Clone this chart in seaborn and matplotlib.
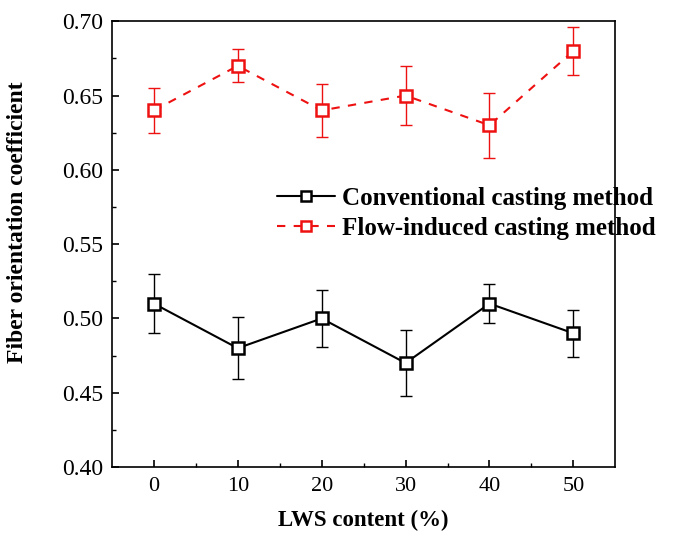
import pandas as pd
import matplotlib.pyplot as plt
import seaborn as sns

# --- DATA ---
lws_content = [0, 10, 20, 30, 40, 50]
conventional = [0.51, 0.48, 0.50, 0.47, 0.51, 0.49]
conventional_err = [0.020, 0.021, 0.019, 0.022, 0.013, 0.016]
flow_induced = [0.64, 0.67, 0.64, 0.65, 0.63, 0.68]
flow_induced_err = [0.015, 0.011, 0.018, 0.020, 0.022, 0.016]

LABEL_CONV = "Conventional casting method"
LABEL_FLOW = "Flow-induced casting method"

df = pd.DataFrame({
    "lws": lws_content * 2,
    "coef": conventional + flow_induced,
    "err": conventional_err + flow_induced_err,
    "method": [LABEL_CONV] * len(lws_content) + [LABEL_FLOW] * len(lws_content),
})

sns.set_theme(style="ticks")
plt.rcParams["font.family"] = ["Liberation Serif", "DejaVu Serif"]
# seaborn greys the text; the original is plain black
for key in ["text.color", "axes.labelcolor", "xtick.color", "ytick.color"]:
    plt.rcParams[key] = "black"

fig = plt.figure(figsize=(6.74, 5.45), dpi=100)
ax = fig.add_axes([0.166, 0.143, 0.747, 0.818])

colors = {LABEL_CONV: "black", LABEL_FLOW: "#ee1111"}

# error bars first so the markers sit on top
for name, sub in df.groupby("method", sort=False):
    ax.errorbar(sub["lws"], sub["coef"], yerr=sub["err"], fmt="none",
                ecolor=colors[name], elinewidth=1.0, capsize=4, capthick=1.0,
                zorder=2)

sns.lineplot(
    data=df, x="lws", y="coef", hue="method", style="method",
    palette=colors, dashes={LABEL_CONV: "", LABEL_FLOW: (4, 4)},
    markers={LABEL_CONV: "s", LABEL_FLOW: "s"},
    markersize=9, markerfacecolor="white", markeredgewidth=1.8,
    linewidth=1.5, ax=ax, legend=False, zorder=3,
)
for line, name in zip(ax.lines[-2:], [LABEL_CONV, LABEL_FLOW]):
    line.set_markeredgecolor(colors[name])

ax.set_xlim(-5, 55)
ax.set_ylim(0.40, 0.70)
ax.set_xticks(lws_content)
ax.set_xticks([5, 15, 25, 35, 45], minor=True)
ax.set_yticks([0.40, 0.45, 0.50, 0.55, 0.60, 0.65, 0.70])
ax.set_yticks([0.425, 0.475, 0.525, 0.575, 0.625, 0.675], minor=True)
ax.set_yticklabels([f"{v:.2f}" for v in ax.get_yticks()])
ax.tick_params(which="major", direction="in", length=5, width=1.2, pad=7)
ax.tick_params(axis="x", labelsize=16)
ax.tick_params(axis="y", labelsize=17, pad=6)
ax.tick_params(which="minor", direction="in", length=3, width=1.0)
for s in ax.spines.values():
    s.set_visible(True)
    s.set_linewidth(1.2)
    s.set_color("black")

ax.set_xlabel("LWS content (%)", fontsize=16.5, fontweight="bold", labelpad=10)
ax.set_ylabel("Fiber orientation coefficient", fontsize=17, fontweight="bold")
ax.yaxis.set_label_coords(-0.166, 0.55)

# legend sits partly outside the axes, so anchor it in figure coords
handles = ax.lines[-2:]
leg = fig.legend(handles, [LABEL_CONV, LABEL_FLOW], loc="center left",
                 bbox_to_anchor=(277 / 674, 1 - 213.5 / 545), frameon=False,
                 prop={"weight": "bold", "size": 18}, handlelength=2.3,
                 handletextpad=0.3, labelspacing=0.3, markerscale=0.75,
                 borderpad=0, borderaxespad=0, labelcolor="black")

fig.savefig("out.png", dpi=100)
